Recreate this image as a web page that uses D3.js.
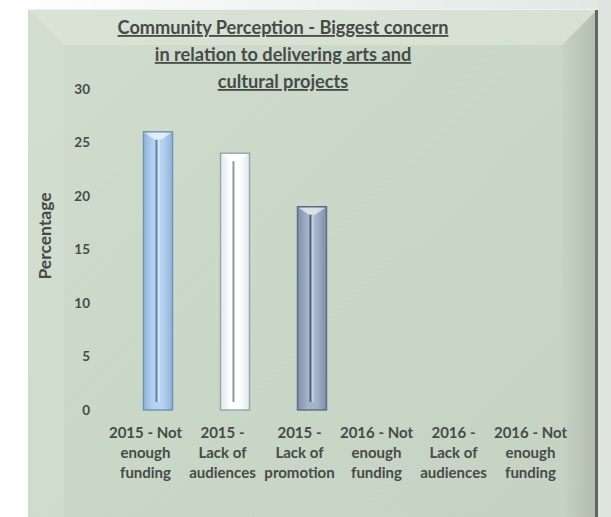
<!DOCTYPE html>
<html><head><meta charset="utf-8">
<script src="https://cdn.jsdelivr.net/npm/d3@7"></script>
<style>html,body{margin:0;padding:0;background:#fff;}svg{display:block;}</style>
</head><body>
<script>
const categories = ["2015 - Not enough funding","2015 - Lack of audiences","2015 - Lack of promotion","2016 - Not enough funding","2016 - Lack of audiences","2016 - Not enough funding"];
const tickLines = [["2015 - Not","enough","funding"],["2015 -","Lack of","audiences"],["2015 -","Lack of","promotion"],["2016 - Not","enough","funding"],["2016 -","Lack of","audiences"],["2016 - Not","enough","funding"]];
const values = [26, 24, 19, null, null, null];
const yTicks = [0,5,10,15,20,25,30];
const titleLines = ["Community Perception - Biggest concern","in relation to delivering arts and","cultural projects"];
const yTitle = "Percentage";

const W = 611, H = 517;
const svg = d3.select("body").append("svg").attr("width", W).attr("height", H);
const defs = svg.append("defs");

// outer background
const bgG = defs.append("linearGradient").attr("id","bgTop").attr("x1",0).attr("x2",1).attr("y1",0).attr("y2",0);
bgG.append("stop").attr("offset",0).attr("stop-color","#ffffff");
bgG.append("stop").attr("offset",1).attr("stop-color","#e2e7e4");
svg.append("rect").attr("width",W).attr("height",H).attr("fill","#ffffff");
svg.append("rect").attr("width",W).attr("height",9).attr("fill","url(#bgTop)");
svg.append("rect").attr("x",598).attr("width",13).attr("height",H).attr("fill","#dfe4e1");

// panel
const P = {x0:28, y0:9, x1:598, y1:570, b:36};
const pg = defs.append("linearGradient").attr("id","panel").attr("x1",0).attr("x2",1).attr("y1",0).attr("y2",1);
pg.append("stop").attr("offset",0).attr("stop-color","#d0ddce");
pg.append("stop").attr("offset",0.5).attr("stop-color","#c9d7c7");
pg.append("stop").attr("offset",1).attr("stop-color","#c5d2c3");
svg.append("rect").attr("x",P.x0).attr("y",P.y0).attr("width",P.x1-P.x0).attr("height",P.y1-P.y0).attr("fill","url(#panel)");
const rg = defs.append("linearGradient").attr("id","rbev").attr("x1",0).attr("x2",1);
rg.append("stop").attr("offset",0).attr("stop-color","#c6d2c4");
rg.append("stop").attr("offset",1).attr("stop-color","#aab5a8");
const bev = [
  {pts:[[P.x0,P.y0],[P.x1,P.y0],[P.x1-P.b,P.y0+P.b],[P.x0+P.b,P.y0+P.b]], c:"#d9e4d7", o:0.8},
  {pts:[[P.x0,P.y0],[P.x0+P.b,P.y0+P.b],[P.x0+P.b,P.y1-P.b],[P.x0,P.y1]], c:"#d3e0d1", o:0.6},
  {pts:[[P.x1,P.y0],[P.x1,P.y1],[P.x1-P.b,P.y1-P.b],[P.x1-P.b,P.y0+P.b]], c:"url(#rbev)", o:0.8}
];
svg.selectAll("polygon.bev").data(bev).join("polygon").attr("class","bev")
  .attr("points",d=>d.pts.map(p=>p.join(",")).join(" ")).attr("fill",d=>d.c).attr("opacity",d=>d.o);
svg.append("rect").attr("x",595).attr("y",P.y0).attr("width",3).attr("height",H-P.y0).attr("fill","#5f665f");
svg.append("rect").attr("x",P.x0).attr("y",P.y0).attr("width",P.x1-P.x0).attr("height",1).attr("fill","#eef3ee");

// scales
const y = d3.scaleLinear().domain([0,30]).range([410,89]);
const x = d3.scaleBand().domain(d3.range(categories.length)).range([119.5,581.5]).paddingInner(0.623).paddingOuter(0.3115);

const font = "Lato, 'Open Sans', sans-serif";
const txt = "#474b47";

// title
svg.append("g").selectAll("text").data(titleLines).join("text")
  .attr("x",283).attr("y",(d,i)=>34+i*27).attr("text-anchor","middle")
  .attr("font-family",font).attr("font-weight","bold").attr("font-size",18.2)
  .attr("fill",txt).attr("text-decoration","underline").text(d=>d);

// y axis
const yAxis = d3.axisLeft(y).tickValues(yTicks).tickSize(0).tickPadding(0);
const ya = svg.append("g").attr("transform","translate(90,0)").call(yAxis);
ya.select(".domain").remove();
ya.selectAll("text").attr("font-family",font).attr("font-weight","bold").attr("font-size",13.5).attr("fill",txt);

svg.append("text").attr("transform","translate(51,236) rotate(-90)").attr("text-anchor","middle")
  .attr("font-family",font).attr("font-weight","bold").attr("font-size",17.5).attr("fill",txt).text(yTitle);

// bar colours
const palettes = [
  {a:"#8fb4dc", b:"#b7d3f1", s:"#6f8fb3", g:"#5f7fa6"},
  {a:"#e2e6ec", b:"#ffffff", s:"#9aa3ad", g:"#8a949e"},
  {a:"#7d8faa", b:"#a5b3c9", s:"#5d6c84", g:"#4f5e78"}
];
palettes.forEach((p,i)=>{
  const g = defs.append("linearGradient").attr("id","bar"+i).attr("x1",0).attr("x2",1);
  g.append("stop").attr("offset",0).attr("stop-color",p.a);
  g.append("stop").attr("offset",0.35).attr("stop-color",p.b);
  g.append("stop").attr("offset",0.65).attr("stop-color",p.b);
  g.append("stop").attr("offset",1).attr("stop-color",p.a);
});

const barData = values.map((v,i)=>({i,v})).filter(d=>d.v!=null);
const bars = svg.append("g").selectAll("g").data(barData).join("g");
bars.append("rect").attr("x",d=>x(d.i)).attr("y",d=>y(d.v)).attr("width",x.bandwidth())
  .attr("height",d=>y(0)-y(d.v)).attr("fill",d=>`url(#bar${d.i%3})`)
  .attr("stroke",d=>palettes[d.i%3].s).attr("stroke-width",1.4);
// top bevel highlight
bars.append("polygon").attr("points",d=>{
  const x0=x(d.i), x1=x0+x.bandwidth(), t=y(d.v), c=x0+x.bandwidth()/2;
  return [[x0+1,t+1],[x1-1,t+1],[c+3,t+8],[c-3,t+8]].map(p=>p.join(",")).join(" ");
}).attr("fill","#ffffff").attr("opacity",0.6);
// groove
bars.append("rect").attr("x",d=>x(d.i)+x.bandwidth()/2-2.5).attr("y",d=>y(d.v)+8)
  .attr("width",2).attr("height",d=>y(0)-y(d.v)-16).attr("fill",d=>palettes[d.i%3].g);
bars.append("rect").attr("x",d=>x(d.i)+x.bandwidth()/2-0.5).attr("y",d=>y(d.v)+8)
  .attr("width",2.5).attr("height",d=>y(0)-y(d.v)-16).attr("fill","#ffffff").attr("opacity",0.35);

// x labels
const xl = svg.append("g").selectAll("text").data(tickLines).join("text")
  .attr("text-anchor","middle").attr("font-family",font).attr("font-weight","bold")
  .attr("font-size",15).attr("fill",txt);
xl.selectAll("tspan").data((d,i)=>d.map(l=>({l,i}))).join("tspan")
  .attr("x",d=>x(d.i)+x.bandwidth()/2-12.5).attr("y",(d,j)=>438+j*20).text(d=>d.l);
</script>
</body></html>
